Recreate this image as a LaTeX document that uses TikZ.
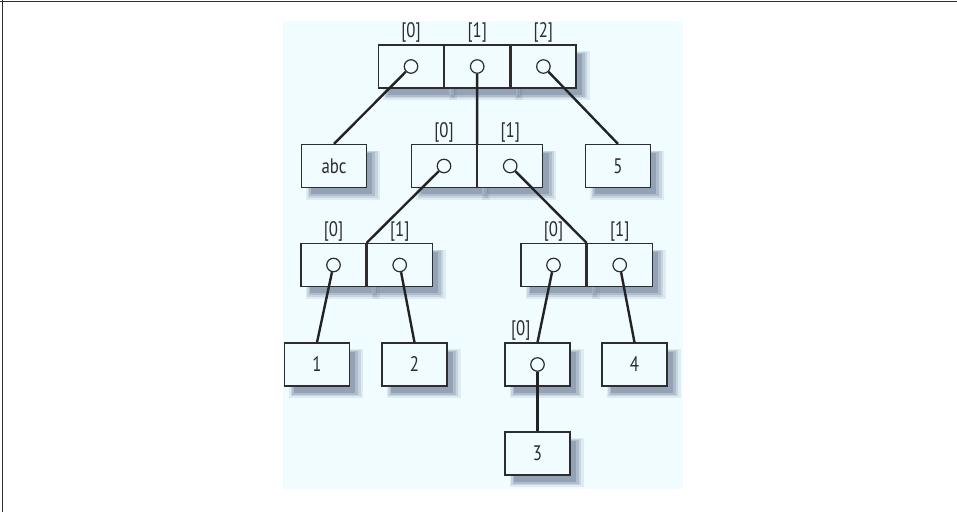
\documentclass[tikz,border=0pt]{standalone}
\usepackage{fontspec}
\setmainfont{PT Sans}[FakeStretch=0.8]
\usetikzlibrary{positioning,shadows}
\definecolor{bgblue}{RGB}{240,252,255}
\definecolor{shadowgray}{RGB}{100,115,145}
\definecolor{inkgray}{RGB}{45,45,45}
\definecolor{linkgray}{RGB}{35,35,35}

\begin{document}
\begin{tikzpicture}[x=1pt, y=-1pt, label distance=0pt,
  softshadow/.style={
    drop shadow={shadow xshift=8pt,shadow yshift=-8pt,fill=shadowgray,opacity=.12,shadow scale=1.14},
    drop shadow={shadow xshift=8pt,shadow yshift=-8pt,fill=shadowgray,opacity=.18,shadow scale=1.08},
    drop shadow={shadow xshift=8pt,shadow yshift=-8pt,fill=shadowgray,opacity=.25,shadow scale=1.02},
    drop shadow={shadow xshift=8pt,shadow yshift=-8pt,fill=shadowgray,opacity=.35,shadow scale=.95}},
  cell/.style={draw=inkgray, line width=1.2pt, fill=bgblue, minimum width=65pt, minimum height=43pt,
    inner sep=0pt, text=inkgray, font=\fontsize{21}{25}\selectfont, softshadow},
  idx/.style={inner sep=1.5pt, text=inkgray, font=\fontsize{21}{25}\selectfont},
  dot/.style={circle, draw=inkgray, line width=1.2pt, fill=bgblue, minimum size=13.5pt, inner sep=0pt},
  link/.style={draw=linkgray, line width=2.4pt}]
	\useasboundingbox (0,0) rectangle (957,512);
	\fill[bgblue] (283,21) rectangle (683,489);
	\draw[inkgray, line width=1.5pt] (0,1.5) -- (957,1.5);
	\draw[inkgray, line width=1.5pt] (2.5,0) -- (2.5,512);

	% top list
	\node[cell, label={[idx]above:{[0]}}] (t0) at (411,66.5) {};
	\node[cell, label={[idx]above:{[1]}}, right=0pt of t0] (t1) {};
	\node[cell, label={[idx]above:{[2]}}, right=0pt of t1] (t2) {};
	\node[dot] (t0d) at (t0) {};
	\node[dot] (t1d) at (t1) {};
	\node[dot] (t2d) at (t2) {};

	% second row
	\node[cell] (abc) at (334,166) {abc};
	\node[cell, label={[idx]above:{[0]}}] (m0) at (444,166) {};
	\node[cell, label={[idx]above:{[1]}}, right=0pt of m0] (m1) {};
	\node[cell] (five) at (618,166) {5};
	\node[dot] (m0d) at (m0) {};
	\node[dot] (m1d) at (m1) {};

	% third row
	\node[cell, label={[idx]above:{[0]}}] (l0) at (333.5,265) {};
	\node[cell, label={[idx]above:{[1]}}, right=0pt of l0] (l1) {};
	\node[cell, label={[idx]above:{[0]}}] (r0) at (553.5,265) {};
	\node[cell, label={[idx]above:{[1]}}, right=0pt of r0] (r1) {};
	\node[dot] (l0d) at (l0) {};
	\node[dot] (l1d) at (l1) {};
	\node[dot] (r0d) at (r0) {};
	\node[dot] (r1d) at (r1) {};

	% leaves
	\node[cell] (one) at (317,364.5) {1};
	\node[cell] (two) at (414.5,364.5) {2};
	\node[cell] (s0) at (537.5,364.5) {};
	\node[idx, above right=0pt and 5pt of s0.north west] (s0lbl) {[0]};
	\node[dot] (s0d) at (s0) {};
	\node[cell] (four) at (634.5,364.5) {4};
	\node[cell] (three) at (537.5,453.5) {3};

	\draw[link] (t0d) -- (abc.north);
	\draw[link] (t1d) -- (m0.north east);
	\draw[link] (t2d) -- (five.north);
	\draw[link] (m0d) -- (l0.north east);
	\draw[link] (m1d) -- (r0.north east);
	\draw[link] (l0d) -- (one.north);
	\draw[link] (l1d) -- (two.north);
	\draw[link] (r0d) -- (s0.north);
	\draw[link] (r1d) -- (four.north);
	\draw[link] (s0d) -- (three.north);
\end{tikzpicture}
\end{document}
